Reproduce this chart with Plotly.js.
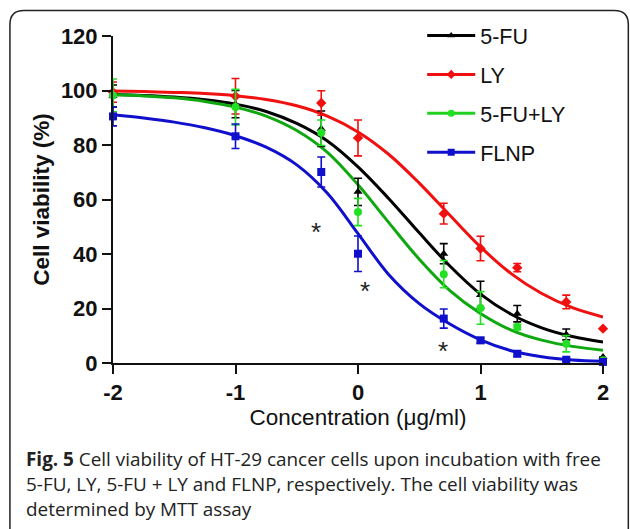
<!DOCTYPE html>
<html>
<head>
<meta charset="utf-8">
<script src="https://cdn.plot.ly/plotly-3.0.1.min.js"></script>
<style>
  html, body { margin: 0; padding: 0; background: #fff; }
  #chart { width: 630px; height: 529px; }
</style>
</head>
<body>
<div id="chart"></div>
<script>
// ---- Data ----
const seriesNames = ["5-FU", "LY", "5-FU+LY", "FLNP"];
const concLog = [-2, -1, -0.3, 0, 0.7, 1, 1.3, 1.7, 2];

const fuMean   = [98.0, 95.0, 86.0, 62.8, 40.1, 25.0, 18.1, 10.5, 2.2];
const fuErr    = [4.0, 5.0, 6.5, 5.0, 3.7, 5.0, 3.0, 2.0, 0];
const lyMean   = [99.4, 97.9, 95.4, 82.6, 54.8, 42.0, 35.0, 22.4, 12.6];
const lyErr    = [3.7, 6.5, 4.5, 6.6, 3.8, 4.5, 1.5, 2.5, 0];
const comboMean= [98.2, 93.9, 84.5, 55.4, 32.6, 20.2, 13.2, 7.1, 1.0];
const comboErr = [6.0, 6.5, 4.7, 5.0, 5.0, 6.0, 1.0, 3.0, 0];
const flnpMean = [90.5, 83.2, 70.1, 40.1, 16.3, 8.3, 3.4, 1.2, 0.4];
const flnpErr  = [3.5, 4.5, 5.5, 6.5, 3.5, 1.0, 1.0, 0.5, 0];

const fitX     = [-2, -1.75, -1.5, -1.25, -1, -0.75, -0.5, -0.25, 0, 0.25, 0.5, 0.75, 1, 1.25, 1.5, 1.75, 2];
const fuFit    = [98.5, 98.2, 97.6, 96.6, 95.0, 92.3, 87.9, 81.5, 72.0, 60.4, 47.8, 35.6, 25.3, 17.9, 12.9, 9.7, 7.7];
const lyFit    = [99.8, 99.6, 99.3, 98.9, 98.1, 96.7, 94.4, 90.6, 84.8, 76.6, 66.0, 54.2, 42.6, 32.8, 25.5, 20.3, 16.9];
const comboFit = [98.4, 98.0, 97.3, 96.0, 93.9, 90.6, 85.3, 77.3, 65.4, 51.6, 38.1, 26.6, 18.2, 12.1, 8.4, 6.1, 4.7];
const flnpFit  = [91.1, 89.9, 88.4, 86.3, 83.4, 79.2, 72.7, 62.3, 47.5, 32.5, 21.8, 14.3, 8.5, 4.5, 2.3, 1.1, 0.6];

// significance markers
const starX = [-0.346, 0.055, 0.695];
const starY = [50.5, 29.1, 7.1];

const xTicks = [-2, -1, 0, 1, 2];
const yTicks = [0, 20, 40, 60, 80, 100, 120];

const captionLines = [
  "<b>Fig. 5</b> Cell viability of HT-29 cancer cells upon incubation with free",
  "5-FU, LY, 5-FU + LY and FLNP, respectively. The cell viability was",
  "determined by MTT assay"
];

// ---- Styles ----
const lineColors   = ["#000000", "#f01010", "#10a810", "#1010cc"];
const markerColors = ["#000000", "#f01010", "#22e022", "#1010cc"];
const legendLine   = ["#000000", "#f01010", "#22d022", "#1010cc"];
const symbols = ["triangle-up", "diamond", "circle", "square"];
const means = [fuMean, lyMean, comboMean, flnpMean];
const errs  = [fuErr, lyErr, comboErr, flnpErr];
const fits  = [fuFit, lyFit, comboFit, flnpFit];

// plot-area geometry in px
const L = 113, R = 602.7, T = 36, B = 362.7;
const W = 630, H = 529;
const px = v => (v - L) / (R - L);
const py = v => (B - v) / (B - T);

const traces = [];
for (let i = 0; i < 4; i++) {
  traces.push({
    x: fitX, y: fits[i], type: "scatter", mode: "lines",
    line: { color: lineColors[i], width: 3, shape: "spline", smoothing: 1 },
    showlegend: false, hoverinfo: "skip", cliponaxis: false
  });
}
for (let i = 0; i < 4; i++) {
  traces.push({
    x: concLog, y: means[i], type: "scatter", mode: "markers",
    marker: { color: markerColors[i], symbol: symbols[i], size: 8 },
    error_y: { type: "data", array: errs[i], visible: true, color: markerColors[i], thickness: 1.6, width: 4 },
    showlegend: false, cliponaxis: false
  });
}
// legend entries
for (let i = 0; i < 4; i++) {
  traces.push({
    x: [null], y: [null], type: "scatter", mode: "lines+markers",
    name: seriesNames[i], legendgroup: "g" + i,
    line: { color: legendLine[i], width: 3 },
    marker: { color: markerColors[i], symbol: symbols[i], size: 7 }
  });
}

const annotations = [];
for (let i = 0; i < starX.length; i++) {
  annotations.push({
    x: starX[i], y: starY[i], xref: "x", yref: "y", text: "*", showarrow: false,
    font: { family: "Liberation Sans, Arial, sans-serif", size: 26, color: "#222" },
    xanchor: "center", yanchor: "middle", yshift: -7
  });
}
const capY = [459, 484, 508.5];
for (let i = 0; i < captionLines.length; i++) {
  annotations.push({
    x: px(24), y: py(capY[i]), xref: "paper", yref: "paper", text: captionLines[i],
    showarrow: false, xanchor: "left", yanchor: "middle", align: "left",
    font: { family: "Open Sans, sans-serif", size: 18.9, color: "#222" }
  });
}

// rounded frame
const fl = 10, ft = 10.5, fr = 628, fb = 540, rad = 14;
const framePath = `M ${px(fl)},${py(fb)} L ${px(fl)},${py(ft + rad)} Q ${px(fl)},${py(ft)} ${px(fl + rad)},${py(ft)} ` +
  `L ${px(fr - rad)},${py(ft)} Q ${px(fr)},${py(ft)} ${px(fr)},${py(ft + rad)} L ${px(fr)},${py(fb)}`;

const tickFont = { family: "Liberation Sans, Arial, sans-serif", size: 22, color: "#111", weight: "bold" };

const layout = {
  width: W, height: H,
  margin: { l: L, r: W - R, t: T, b: H - B, pad: 0 },
  paper_bgcolor: "#fff", plot_bgcolor: "#fff",
  showlegend: true,
  legend: {
    x: px(422), y: py(15), xanchor: "left", yanchor: "top",
    font: { family: "Liberation Sans, Arial, sans-serif", size: 21.5, color: "#111" },
    tracegroupgap: 8, bgcolor: "rgba(0,0,0,0)", itemwidth: 48
  },
  xaxis: {
    range: [-2, 2], tickvals: xTicks, ticktext: xTicks.map(String),
    showgrid: false, zeroline: false, showline: true, linecolor: "#111", linewidth: 2,
    ticks: "outside", ticklen: 9, tickwidth: 2, tickcolor: "#111",
    tickfont: tickFont,
    title: { text: "Concentration (μg/ml)", font: { family: "Liberation Sans, Arial, sans-serif", size: 22.5, color: "#111" }, standoff: 4 }
  },
  yaxis: {
    range: [0, 120], tickvals: yTicks, ticktext: yTicks.map(String),
    showgrid: false, zeroline: false, showline: true, linecolor: "#111", linewidth: 2,
    ticks: "outside", ticklen: 9, tickwidth: 2, tickcolor: "#111",
    tickfont: tickFont,
    title: { text: "Cell viability (%)", font: { family: "Liberation Sans, Arial, sans-serif", size: 22.5, color: "#111", weight: "bold" }, standoff: 5 }
  },
  annotations: annotations,
  shapes: [{
    type: "path", xref: "paper", yref: "paper", path: framePath,
    line: { color: "#222", width: 1.5 }
  }]
};

Plotly.newPlot("chart", traces, layout, { displayModeBar: false, staticPlot: true });
</script>
</body>
</html>
